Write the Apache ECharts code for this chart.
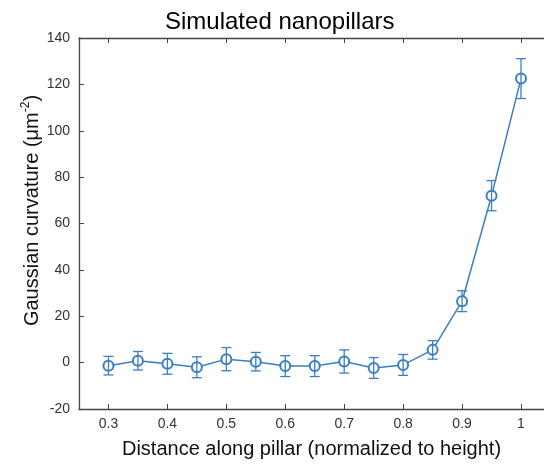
<!DOCTYPE html>
<html>
<head>
<meta charset="utf-8">
<script src="https://cdn.jsdelivr.net/npm/echarts@6/dist/echarts.min.js"></script>
<style>
    html, body { margin: 0; padding: 0; background: #fff; }
    #chart { width: 544px; height: 464px; }
</style>
</head>
<body>
<div id="chart"></div>
<script>
// distance along the pillar (normalized)
var distance = [0.3, 0.35, 0.4, 0.45, 0.5, 0.55, 0.6, 0.65, 0.7, 0.75, 0.8, 0.85, 0.9, 0.95, 1.0];
// gaussian curvature mean values
var curvature = [-1.3, 0.8, -0.5, -2.0, 1.5, 0.4, -1.5, -1.5, 0.5, -2.3, -1.0, 5.5, 26.5, 72, 122.5];
// half length of the error bars
var errHalf = [4, 4, 4.5, 4.5, 5, 4, 4.5, 4.5, 5, 4.5, 4.5, 4, 4.5, 6.5, 8.6];
var xTicks = [0.3, 0.4, 0.5, 0.6, 0.7, 0.8, 0.9, 1.0];

var lineColor = '#3a7fc4';
var axisColor = '#444';

var pts = [];
var bars = [];
for (var i = 0; i < distance.length; i++) {
    pts.push([distance[i], curvature[i]]);
    bars.push([distance[i], curvature[i] - errHalf[i], curvature[i] + errHalf[i]]);
}

var myChart = echarts.init(document.getElementById('chart'));

var option = {
    animation: false,
    title: {
        text: 'Simulated nanopillars',
        left: 160,
        top: 5,
        textStyle: {
            fontFamily: 'Liberation Sans',
            fontWeight: 'normal',
            fontSize: 24,
            color: '#000'
        }
    },
    grid: {
        left: 79,
        top: 38,
        right: 0,
        bottom: 53
    },
    xAxis: [
        {
            type: 'value',
            min: 0.25,
            max: 1.039,
            position: 'bottom',
            name: 'Distance along pillar (normalized to height)',
            nameLocation: 'middle',
            nameGap: 30,
            nameTextStyle: {
                fontFamily: 'Liberation Sans',
                fontSize: 20,
                color: '#111'
            },
            axisLine: { show: true, onZero: false, lineStyle: { color: axisColor, width: 1.3 } },
            axisTick: {
                show: true,
                inside: true,
                length: 5,
                customValues: xTicks,
                lineStyle: { color: axisColor }
            },
            axisLabel: {
                customValues: xTicks,
                margin: 8,
                fontFamily: 'Liberation Sans',
                fontSize: 14,
                color: '#333',
                formatter: function (v) { return String(Math.round(v * 10) / 10); }
            },
            splitLine: { show: false }
        },
        {
            type: 'value',
            min: 0.25,
            max: 1.039,
            position: 'top',
            axisLine: { show: true, onZero: false, lineStyle: { color: axisColor, width: 1.3 } },
            axisTick: {
                show: true,
                inside: true,
                length: 5,
                customValues: xTicks,
                lineStyle: { color: axisColor }
            },
            axisLabel: { show: false },
            splitLine: { show: false }
        }
    ],
    yAxis: {
        type: 'value',
        min: -20,
        max: 140,
        interval: 20,
        name: '{a|Gaussian curvature (μm}{s|-2}{a|)}',
        nameLocation: 'middle',
        nameGap: 35,
        nameMoveOverlap: false,
        nameRotate: 90,
        nameTextStyle: {
            padding: [0, 0, 0, 26],
            rich: {
                a: { fontFamily: 'Liberation Sans', fontSize: 20, color: '#111', lineHeight: 24 },
                s: { fontFamily: 'Liberation Sans', fontSize: 12, color: '#111', verticalAlign: 'top', lineHeight: 12, padding: [0, 0, 8, 0] }
            }
        },
        axisLine: { show: true, onZero: false, lineStyle: { color: axisColor, width: 1.3 } },
        axisTick: { show: true, inside: true, length: 5, lineStyle: { color: axisColor } },
        axisLabel: {
            margin: 9,
            fontFamily: 'Liberation Sans',
            fontSize: 14,
            color: '#333'
        },
        splitLine: { show: false }
    },
    series: [
        {
            name: 'curvature',
            type: 'line',
            data: pts,
            symbol: 'emptyCircle',
            symbolSize: 10,
            showSymbol: true,
            lineStyle: { color: lineColor, width: 1.5 },
            itemStyle: { color: lineColor, borderColor: lineColor, borderWidth: 1.3 },
            z: 3
        },
        {
            name: 'error',
            type: 'custom',
            data: bars,
            renderItem: function (params, api) {
                var x = api.value(0);
                var lo = api.coord([x, api.value(1)]);
                var hi = api.coord([x, api.value(2)]);
                var cap = 5;
                var st = { stroke: lineColor, lineWidth: 1.3 };
                return {
                    type: 'group',
                    children: [
                        { type: 'line', shape: { x1: lo[0], y1: lo[1], x2: hi[0], y2: hi[1] }, style: st },
                        { type: 'line', shape: { x1: lo[0] - cap, y1: lo[1], x2: lo[0] + cap, y2: lo[1] }, style: st },
                        { type: 'line', shape: { x1: hi[0] - cap, y1: hi[1], x2: hi[0] + cap, y2: hi[1] }, style: st }
                    ]
                };
            },
            z: 4
        }
    ]
};
myChart.setOption(option);
</script>
</body>
</html>
